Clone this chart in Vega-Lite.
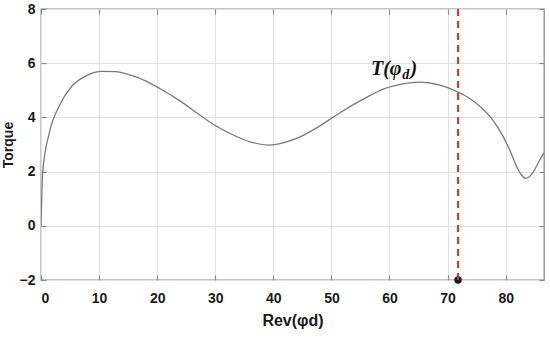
{
  "$schema": "https://vega.github.io/schema/vega-lite/v6.json",
  "width": 503,
  "height": 271,
  "autosize": "none",
  "padding": {"left": 41, "top": 9, "right": 6, "bottom": 59},
  "background": "white",
  "config": {
    "view": {"stroke": "#8a8a8a", "strokeWidth": 1.3},
    "axis": {
      "labelFont": "Liberation Sans",
      "labelFontWeight": "bold",
      "labelFontSize": 14,
      "labelColor": "#1a1a1a",
      "titleFont": "Liberation Sans",
      "titleFontWeight": "bold",
      "titleColor": "#1a1a1a",
      "domain": false,
      "tickColor": "#8a8a8a",
      "tickWidth": 1.2,
      "gridColor": "#e0e0e0",
      "gridWidth": 1
    }
  },
  "datasets": {
    "torque": [
      {"rev": 0, "torque": 0},
      {"rev": 0.3, "torque": 2.0},
      {"rev": 1.4, "torque": 3.4},
      {"rev": 3.2, "torque": 4.45},
      {"rev": 5.3, "torque": 5.15},
      {"rev": 7.9, "torque": 5.55},
      {"rev": 10.5, "torque": 5.7},
      {"rev": 12.8, "torque": 5.69},
      {"rev": 15.7, "torque": 5.54},
      {"rev": 18, "torque": 5.35},
      {"rev": 20.6, "torque": 5.05},
      {"rev": 24, "torque": 4.6},
      {"rev": 27.4, "torque": 4.08},
      {"rev": 30, "torque": 3.7},
      {"rev": 33.1, "torque": 3.35},
      {"rev": 36, "torque": 3.1},
      {"rev": 39.2, "torque": 2.98},
      {"rev": 42, "torque": 3.08},
      {"rev": 44.6, "torque": 3.28},
      {"rev": 47.5, "torque": 3.62},
      {"rev": 50.4, "torque": 4.02},
      {"rev": 54, "torque": 4.5},
      {"rev": 56.7, "torque": 4.81},
      {"rev": 58.4, "torque": 5.0},
      {"rev": 61.5, "torque": 5.2},
      {"rev": 65.3, "torque": 5.3},
      {"rev": 68.5, "torque": 5.2},
      {"rev": 71.7, "torque": 4.94},
      {"rev": 73.8, "torque": 4.7},
      {"rev": 75.6, "torque": 4.4},
      {"rev": 77.8, "torque": 3.9},
      {"rev": 79.6, "torque": 3.28},
      {"rev": 81, "torque": 2.65},
      {"rev": 81.9, "torque": 2.18},
      {"rev": 82.7, "torque": 1.88},
      {"rev": 83.4, "torque": 1.75},
      {"rev": 84, "torque": 1.8},
      {"rev": 84.8, "torque": 2.0},
      {"rev": 85.8, "torque": 2.4},
      {"rev": 86.6, "torque": 2.7}
    ],
    "marker": [{"rev": 71.8, "lo": -2, "hi": 8}],
    "ann": [
      {"rev": 56.8, "torque": 5.55, "label": "T(φ"},
      {"rev": 63.6, "torque": 5.55, "label": ")"}
    ],
    "sub": [{"rev": 62.2, "torque": 5.4, "label": "d"}]
  },
  "layer": [
    {
      "layer": [
        {
          "data": {"name": "torque"},
          "mark": {"type": "line", "color": "#7a7a7a", "strokeWidth": 1.3, "interpolate": "monotone", "clip": true},
          "encoding": {
            "x": {
              "field": "rev", "type": "quantitative",
              "scale": {"domain": [0, 86.6], "nice": false, "zero": false},
              "axis": {
                "orient": "bottom",
                "values": [0, 10, 20, 30, 40, 50, 60, 70, 80],
                "title": "Rev(φd)",
                "titleFontSize": 16,
                "titlePadding": 7,
                "offset": -5,
                "tickSize": 5,
                "labelPadding": 11,
                "grid": true
              }
            },
            "y": {
              "field": "torque", "type": "quantitative",
              "scale": {"domain": [-2, 8], "nice": false, "zero": false},
              "axis": {
                "orient": "left",
                "values": [-2, 0, 2, 4, 6, 8],
                "title": "Torque",
                "titleFontSize": 14,
                "titlePadding": 4,
                "offset": -5,
                "tickSize": 5,
                "labelPadding": 6,
                "grid": true
              }
            }
          }
        },
        {
          "data": {"name": "marker"},
          "mark": {"type": "point", "filled": true, "color": "#0b1a2c", "size": 55, "opacity": 1, "clip": false},
          "encoding": {
            "x": {"field": "rev", "type": "quantitative"},
            "y": {"field": "lo", "type": "quantitative"}
          }
        },
        {
          "data": {"name": "ann"},
          "mark": {"type": "text", "font": "Liberation Serif", "fontStyle": "italic", "fontWeight": "bold", "fontSize": 20, "align": "left", "baseline": "alphabetic", "color": "#111111"},
          "encoding": {
            "x": {"field": "rev", "type": "quantitative"},
            "y": {"field": "torque", "type": "quantitative"},
            "text": {"field": "label"}
          }
        },
        {
          "data": {"name": "sub"},
          "mark": {"type": "text", "font": "Liberation Serif", "fontStyle": "italic", "fontWeight": "bold", "fontSize": 14, "align": "left", "baseline": "alphabetic", "color": "#111111"},
          "encoding": {
            "x": {"field": "rev", "type": "quantitative"},
            "y": {"field": "torque", "type": "quantitative"},
            "text": {"field": "label"}
          }
        }
      ]
    },
    {
      "data": {"name": "marker"},
      "mark": {"type": "rule", "color": "#ff2020", "strokeWidth": 2, "strokeDash": [7, 5]},
      "encoding": {
        "x": {
          "field": "rev", "type": "quantitative",
          "axis": {"orient": "top", "values": [0, 10, 20, 30, 40, 50, 60, 70, 80], "labels": false, "title": null, "offset": -5, "tickSize": 5, "grid": false}
        },
        "y": {
          "field": "lo", "type": "quantitative",
          "axis": {"orient": "right", "values": [-2, 0, 2, 4, 6, 8], "labels": false, "title": null, "offset": -5, "tickSize": 5, "grid": false}
        },
        "y2": {"field": "hi"}
      }
    }
  ],
  "resolve": {"axis": {"x": "independent", "y": "independent"}}
}
